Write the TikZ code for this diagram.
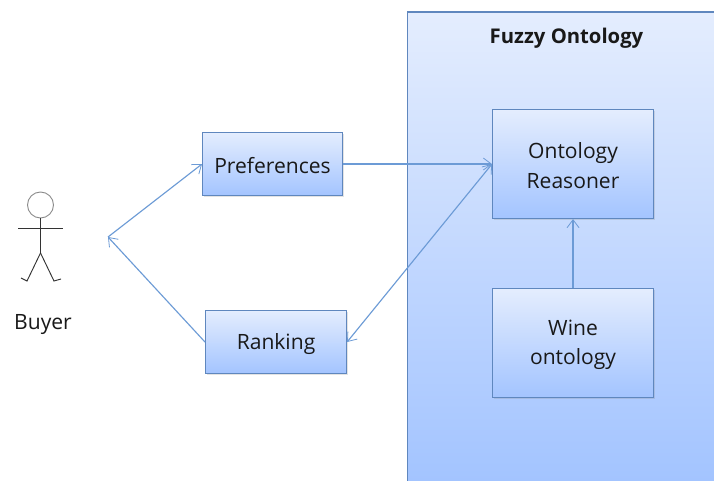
\documentclass[tikz,border=0pt]{standalone}
\usepackage{fontspec}
\setmainfont{Open Sans}
\usetikzlibrary{arrows.meta,shadows}
\definecolor{bdr}{RGB}{95,135,190}
\definecolor{arr}{RGB}{108,155,214}
\definecolor{gtop}{RGB}{228,237,254}
\definecolor{gbot}{RGB}{163,196,255}
\definecolor{ink}{RGB}{25,25,25}
\newcommand{\lowertext}[1]{\raisebox{-1.2pt}[\height][\depth]{#1}}
\tikzset{
  px/.style={x=0.75pt,y=-0.75pt},
  box/.style={draw=bdr,line width=0.8pt,top color=gtop,bottom color=gbot,inner sep=0pt,anchor=north west,align=center,font=\fontsize{15.8}{21.8}\selectfont,text=ink,drop shadow={opacity=0.22,shadow xshift=0.8pt,shadow yshift=-0.8pt}},
  barb/.tip={Straight Barb[length=6pt,width=9pt,line width=0.6pt]},
  conn/.style={draw=arr,line width=0.85pt,-barb},
  stick/.style={draw=black!80,line width=0.7pt},
}
\begin{document}
\begin{tikzpicture}[px]
\useasboundingbox (0,0) rectangle (714,481);
\fill[white] (0,0) rectangle (714,481);
\fill[top color=gtop,bottom color=gbot] (407.5,12) rectangle (714,481);
\draw[bdr,line width=0.8pt] (407.5,481) -- (407.5,12) -- (714,12);
\node[font=\fontsize{15.2}{20}\selectfont\bfseries,text=ink] (title) at (566.5,38) {Fuzzy Ontology};
\coordinate (hub) at (108,237);
\node[box,minimum width=140*0.75pt,minimum height=63*0.75pt] (pref) at (202,132) {\lowertext{Preferences}};
\node[box,minimum width=141*0.75pt,minimum height=63*0.75pt] (rank) at (205,310) {\lowertext{Ranking}};
\node[box,minimum width=161*0.75pt,minimum height=109*0.75pt] (reasoner) at (492,109) {\lowertext{Ontology}\\\lowertext{Reasoner}};
\node[box,minimum width=161*0.75pt,minimum height=109*0.75pt] (wine) at (492,288) {\lowertext{Wine}\\\lowertext{ontology}};
\node[draw=black!45,line width=0.7pt,circle,minimum size=26*0.75pt,inner sep=0pt,fill=white] (head) at (40.5,205) {};
\coordinate (neck) at (40.5,253);
\coordinate (la) at (18,228);
\coordinate (ra) at (63,228);
\coordinate (lf) at (27,281);
\coordinate (rf) at (54,281);
\draw[stick] (head.south) -- (neck);
\draw[stick] (la) -- (ra);
\draw[stick] (neck) -- (lf) -- (21,278);
\draw[stick] (neck) -- (rf) -- (61,279);
\node[font=\fontsize{15.8}{20}\selectfont,text=ink] (buyer) at (43,325) {Buyer};
\draw[conn] (hub) -- (pref.west);
\draw[conn] (rank.west) -- (hub);
\draw[conn] (pref.east) -- (pref.east -| reasoner.west);
\draw[conn,barb-barb] (reasoner.west) -- (rank.east);
\draw[conn] (wine.north) -- (reasoner.south);
\end{tikzpicture}
\end{document}
